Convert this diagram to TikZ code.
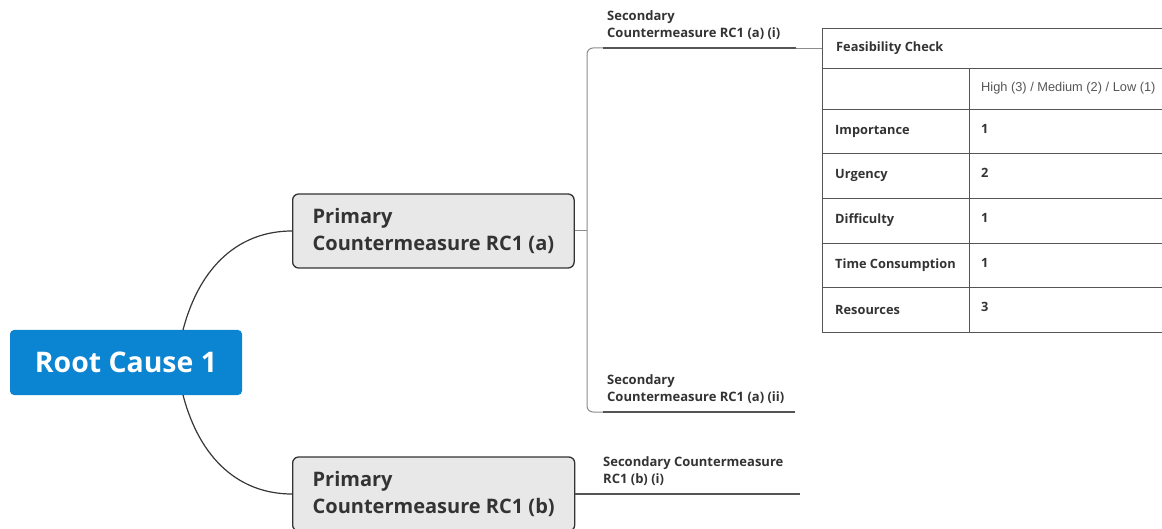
\documentclass[tikz,border=0pt]{standalone}
\usepackage{fontspec}
\setmainfont{Open Sans}
\newfontfamily\arialfont{Liberation Sans}
\usetikzlibrary{calc}
\definecolor{rootblue}{RGB}{11,132,210}
\definecolor{boxfill}{RGB}{232,232,232}
\definecolor{ink}{RGB}{51,51,51}
\definecolor{wire}{RGB}{55,55,55}
\definecolor{grid}{RGB}{85,85,85}
\begin{document}
\begin{tikzpicture}[x=1pt,y=-1pt,
  rootbox/.style={fill=rootblue, rounded corners=4pt, text=white,
    minimum width=232pt, minimum height=65pt, inner sep=0pt,
    font=\fontsize{28.4}{32}\selectfont\bfseries},
  primbox/.style={draw=ink, line width=1.3pt, fill=boxfill, rounded corners=6pt,
    text=ink, align=left, inner xsep=20pt, minimum height=74pt, anchor=west,
    font=\fontsize{20}{27}\selectfont\bfseries},
  sectext/.style={text=ink, align=left, inner sep=0pt, anchor=south west,
    font=\fontsize{13}{17}\selectfont\bfseries},
  celltext/.style={text=ink, inner sep=0pt, anchor=west,
    font=\fontsize{12.8}{15}\selectfont\bfseries},
  scaletext/.style={text=grid, inner sep=0pt, anchor=west,
    font=\fontsize{12.8}{15}\selectfont\arialfont},
  branch/.style={draw=wire, line width=1.2pt},
  bracket/.style={draw=black!45, line width=1pt},
  underline/.style={draw=grid, line width=1.4pt},
  gridline/.style={draw=grid, line width=0.9pt},
  feed/.style={draw=black!45, line width=0.8pt}]
\useasboundingbox (0,0) rectangle (1162,529);

% central topic and primary branches
\node[rootbox] (root) at (126,362.5) {Root Cause 1};
\node[primbox] (pa) at (292,231) {Primary\\Countermeasure RC1 (a)};
\node[primbox] (pb) at (292,494) {Primary\\Countermeasure RC1 (b)};

\coordinate (rtop) at (183,330);
\coordinate (rbot) at (183,395);
\draw[branch] (rtop) .. controls (200,265) and (240,231) .. (pa.west);
\draw[branch] (rbot) .. controls (200,460) and (240,494) .. (pb.west);

% secondary topics
\node[sectext] (s1) at (607,40) {Secondary\\Countermeasure RC1 (a) (i)};
\node[sectext] (s2) at (607,404) {Secondary\\Countermeasure RC1 (a) (ii)};
\node[sectext] (s3) at (603,486) {Secondary Countermeasure\\RC1 (b) (i)};

\coordinate (ja) at (587,231);
\coordinate (u1) at (796,48);
\coordinate (u2) at (795,412);
\coordinate (u3) at (800,494);
\coordinate (a1) at (603,48);
\coordinate (a2) at (603,412);
\draw[bracket] (pa.east) -- (ja);
\draw[bracket, rounded corners=6pt] (u1) -- (ja |- u1) -- (ja |- u2) -- (u2);
\draw[underline] (a1) -- (u1);
\draw[underline] (a2) -- (u2);
\draw[underline] (pb.east) -- (u3);

% feasibility table
\foreach \y in {28,68,109,153,198,243,287,332}
  \draw[gridline] (822,\y) -- (1162,\y);
\draw[gridline] (822,28) -- (822,332);
\draw[gridline] (969,68) -- (969,332);

\node[celltext] (fc) at (836,48) {Feasibility Check};
\coordinate (fcw) at (822,48);
\draw[feed] (u1) -- (fcw);

\node[scaletext] (scale) at (981,88.5) {High (3) / Medium (2) / Low (1)};
\node[celltext] (imp) at (835,131) {Importance};
\node[celltext] (impv) at (981,129) {1};
\node[celltext] (urg) at (835,175.5) {Urgency};
\node[celltext] (urgv) at (981,173) {2};
\node[celltext] (dif) at (835,220.5) {Difficulty};
\node[celltext] (difv) at (981,218) {1};
\node[celltext] (tim) at (835,265) {Time Consumption};
\node[celltext] (timv) at (981,263) {1};
\node[celltext] (res) at (835,309.5) {Resources};
\node[celltext] (resv) at (981,307) {3};
\end{tikzpicture}
\end{document}
